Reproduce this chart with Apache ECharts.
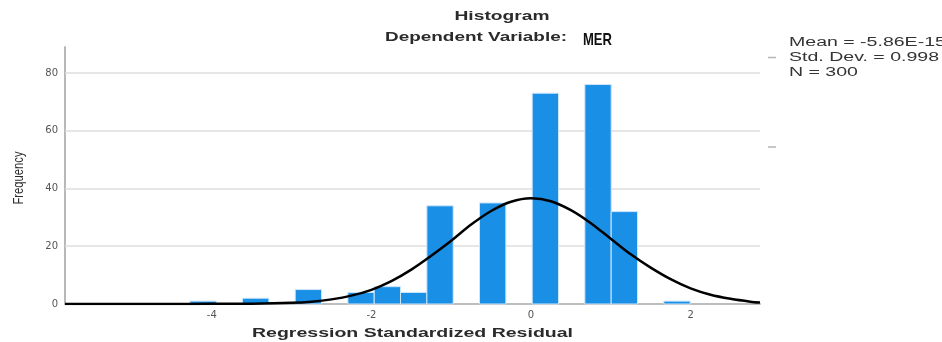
<!DOCTYPE html>
<html>
<head>
<meta charset="utf-8">
<script src="https://cdn.jsdelivr.net/npm/echarts@6/dist/echarts.min.js"></script>
<style>
  html, body { margin: 0; padding: 0; background: #fff; }
  #chart { width: 942px; height: 342px; }
</style>
</head>
<body>
<div id="chart"></div>
<script>
// Histogram of standardized residuals: bin centres and counts
const binMid = [-4.11, -3.45, -2.79, -2.13, -1.80, -1.47, -1.14, -0.48, 0.18, 0.84, 1.17, 1.83];
const binCount = [1, 2, 5, 4, 6, 4, 34, 35, 73, 76, 32, 1];
const binWidth = 0.33;

// Fitted normal curve, sampled along the residual axis
const curveX = [-5.84, -5, -4.5, -4, -3.5, -3, -2.75, -2.5, -2.25, -2, -1.75, -1.5, -1.25, -1, -0.75, -0.5, -0.25, 0, 0.25, 0.5, 0.75, 1, 1.25, 1.5, 1.75, 2, 2.25, 2.5, 2.75, 2.87];
const curveY = [0, 0, 0.02, 0.05, 0.1, 0.4, 0.8, 1.6, 2.9, 4.9, 7.9, 11.9, 16.7, 21.9, 27.5, 32.2, 35.4, 36.6, 35.6, 32.5, 28.0, 22.6, 17.2, 12.6, 8.6, 5.4, 3.2, 1.8, 0.8, 0.5];

// Axis ticks
const xTicks = [-4, -2, 0, 2];
const yTicks = [0, 20, 40, 60, 80];
const gridTicks = [20, 40, 60, 80];

// Summary statistics
const statLines = ['Mean = -5.86E-15', 'Std. Dev. = 0.998', 'N = 300'];

const measureCtx = document.createElement('canvas').getContext('2d');
function widthOf(text, font) {
  measureCtx.font = font;
  return measureCtx.measureText(text).width;
}

const fTitle = 'bold 12px "Liberation Sans", Arial, sans-serif';
const fSub = 'bold 12px "Liberation Sans", Arial, sans-serif';
const fMer = 'bold 17px "Liberation Sans Narrow", "Liberation Sans", Arial, sans-serif';
const fXName = 'bold 13px "Liberation Sans", Arial, sans-serif';
const fYName = '11px "Liberation Sans", Arial, sans-serif';
const fStat = '12px "Liberation Sans", Arial, sans-serif';

const statScale = 150 / widthOf(statLines[1], fStat);

const chart = echarts.init(document.getElementById('chart'), null, { renderer: 'canvas' });

const graphic = [
  {
    type: 'text', x: 502, y: 17,
    scaleX: 95 / widthOf('Histogram', fTitle),
    style: { text: 'Histogram', font: fTitle, fill: '#2b2b2b', align: 'center', verticalAlign: 'middle' }
  },
  {
    type: 'text', x: 385, y: 38,
    scaleX: 182 / widthOf('Dependent Variable:', fSub),
    style: { text: 'Dependent Variable:', font: fSub, fill: '#2b2b2b', align: 'left', verticalAlign: 'middle' }
  },
  {
    type: 'text', x: 583, y: 40,
    scaleX: 29 / widthOf('MER', fMer),
    style: { text: 'MER', font: fMer, fill: '#111', align: 'left', verticalAlign: 'middle' }
  },
  {
    type: 'text', x: 252, y: 333,
    scaleX: 321 / widthOf('Regression Standardized Residual', fXName),
    style: { text: 'Regression Standardized Residual', font: fXName, fill: '#2b2b2b', align: 'left', verticalAlign: 'middle' }
  },
  {
    type: 'text', x: 19, y: 178, rotation: Math.PI / 2,
    scaleX: 53 / widthOf('Frequency', fYName), scaleY: 1.3,
    style: { text: 'Frequency', font: fYName, fill: '#2b2b2b', align: 'center', verticalAlign: 'middle' }
  },
  { type: 'line', shape: { x1: 768, y1: 57.5, x2: 776, y2: 57.5 }, style: { stroke: '#b5b5b5', lineWidth: 1.5 } },
  { type: 'line', shape: { x1: 768, y1: 147, x2: 776, y2: 147 }, style: { stroke: '#b5b5b5', lineWidth: 1.5 } }
];
statLines.forEach((t, i) => {
  graphic.push({
    type: 'text', x: 789, y: 43 + i * 15, scaleX: statScale,
    style: { text: t, font: fStat, fill: '#333', align: 'left', verticalAlign: 'middle' }
  });
});

const option = {
  animation: false,
  backgroundColor: '#fff',
  grid: { left: 65, right: 182, top: 47, bottom: 38 },
  xAxis: {
    type: 'value', min: -5.84, max: 2.87,
    axisLine: { show: true, onZero: false, lineStyle: { color: '#bdbdbd', width: 2 } },
    axisTick: { show: false },
    splitLine: { show: false },
    axisLabel: { customValues: xTicks, color: '#555', fontSize: 10, margin: 6, fontFamily: 'DejaVu Sans' }
  },
  yAxis: {
    type: 'value', min: 0, max: 89,
    axisLine: { show: true, onZero: false, lineStyle: { color: '#b8b8b8', width: 2 } },
    axisTick: { show: false },
    splitLine: { show: false },
    axisLabel: { customValues: yTicks, color: '#555', fontSize: 10, margin: 7, fontFamily: 'DejaVu Sans' }
  },
  graphic: graphic,
  series: [
    {
      // horizontal reference lines behind the bars
      type: 'line', data: [], z: 1, silent: true,
      markLine: {
        silent: true, symbol: 'none', animation: false, z: 1,
        label: { show: false },
        lineStyle: { color: '#dedede', width: 1.5, type: 'solid' },
        emphasis: { disabled: true },
        data: gridTicks.map(v => ({ yAxis: v }))
      }
    },
    {
      type: 'custom', z: 3,
      data: binMid.map((m, i) => [m, binCount[i]]),
      encode: { x: 0, y: 1 },
      renderItem: function (params, api) {
        const m = api.value(0), c = api.value(1);
        const p0 = api.coord([m - binWidth / 2, 0]);
        const p1 = api.coord([m + binWidth / 2, c]);
        return {
          type: 'rect',
          shape: { x: p0[0], y: p1[1], width: p1[0] - p0[0], height: p0[1] - p1[1] },
          style: { fill: '#1a8fe6', stroke: '#cfe6fa', lineWidth: 1 }
        };
      }
    },
    {
      type: 'line', z: 4,
      data: curveX.map((x, i) => [x, curveY[i]]),
      smooth: 0.3, showSymbol: false, symbol: 'none',
      lineStyle: { color: '#000', width: 2.5 }
    }
  ]
};
chart.setOption(option);
</script>
</body>
</html>
